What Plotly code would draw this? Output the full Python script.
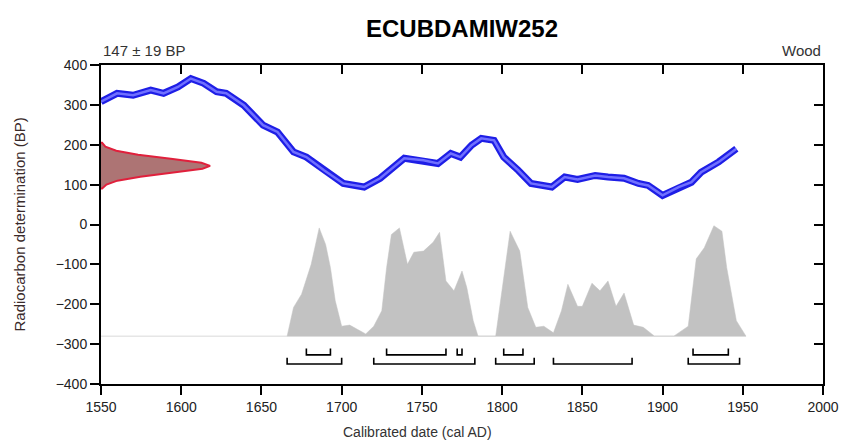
import plotly.graph_objects as go

# ---------------- data ----------------
# Calibration curve (cal AD, BP)
curve_year = [1550, 1560, 1570, 1581, 1589, 1598, 1606, 1614, 1622, 1628, 1639, 1651, 1660,
              1670, 1678, 1689, 1701, 1714, 1724, 1739, 1751, 1760, 1768, 1774, 1781, 1787,
              1795, 1801, 1810, 1818, 1831, 1839, 1847, 1858, 1866, 1876, 1885, 1891, 1900,
              1910, 1918, 1924, 1935, 1946]
curve_bp = [308, 329, 324, 337, 329, 345, 366, 354, 333, 329, 299, 249, 232,
            182, 169, 136, 103, 94, 116, 166, 161, 153, 178, 169, 199, 216,
            211, 169, 136, 103, 94, 119, 113, 123, 119, 116, 103, 98, 73,
            94, 106, 131, 157, 190]

# Radiocarbon determination 147 +/- 19 BP (relative density)
rc_bp = [90, 100, 110, 120, 130, 140, 147, 155, 165, 175, 185, 195, 205]
rc_dens = [0.01, 0.05, 0.15, 0.36, 0.67, 0.93, 1.0, 0.92, 0.64, 0.34, 0.14, 0.04, 0.01]

# Calibrated probability distribution (relative)
cal_year = [1666, 1670, 1675, 1681, 1686, 1690, 1693, 1696, 1700, 1705, 1710, 1715, 1720,
            1725, 1728, 1731, 1736, 1741, 1745, 1751, 1757, 1761, 1765, 1770, 1775, 1778,
            1782, 1785, 1796, 1799, 1805, 1811, 1816, 1821, 1826, 1832, 1837, 1841, 1847,
            1850, 1856, 1861, 1866, 1871, 1876, 1882, 1888, 1895, 1907, 1916, 1921, 1926,
            1932, 1937, 1940, 1946, 1952]
cal_prob = [0.0, 0.26, 0.38, 0.65, 0.98, 0.83, 0.62, 0.32, 0.09, 0.10, 0.06, 0.02, 0.09,
            0.23, 0.62, 0.92, 0.98, 0.65, 0.76, 0.77, 0.85, 0.94, 0.50, 0.41, 0.59, 0.44,
            0.14, 0.0, 0.0, 0.32, 0.95, 0.77, 0.26, 0.08, 0.09, 0.03, 0.23, 0.47, 0.27,
            0.27, 0.48, 0.41, 0.50, 0.27, 0.39, 0.10, 0.08, 0.0, 0.0, 0.09, 0.70, 0.80,
            1.0, 0.95, 0.62, 0.14, 0.01]

# Highest probability ranges
range68_start = [1678, 1728, 1772, 1801, 1919]
range68_end = [1693, 1765, 1775, 1813, 1941]
range95_start = [1666, 1720, 1796, 1832, 1916]
range95_end = [1700, 1783, 1820, 1881, 1948]

title_text = "ECUBDAMIW252"
date_label = "147 ± 19 BP"
material_label = "Wood"
x_title = "Calibrated date (cal AD)"
y_title = "Radiocarbon determination (BP)"
x_ticks = [1550, 1600, 1650, 1700, 1750, 1800, 1850, 1900, 1950, 2000]
y_ticks = [400, 300, 200, 100, 0, -100, -200, -300, -400]

# ---------------- layout constants ----------------
X0, X1 = 1550, 2000
Y0, Y1 = -400, 400
BASE = -280          # baseline of calibrated distribution
CAL_H = 277          # height (BP units) of max probability
RC_W = 68            # width (years) of max density of determination
ROW68, ROW95, TICK = -327, -350, 16
FONT = "Liberation Sans, Arial, sans-serif"

fig = go.Figure()

# baseline of calibrated distribution
fig.add_trace(go.Scatter(x=[X0, 1952], y=[BASE, BASE], mode="lines",
                         line=dict(color="#e6e6e6", width=1.5), hoverinfo="skip", showlegend=False))

# calibrated distribution (grey)
gx = [cal_year[0]] + cal_year + [cal_year[-1]]
gy = [BASE] + [BASE + p * CAL_H for p in cal_prob] + [BASE]
fig.add_trace(go.Scatter(x=gx, y=gy, mode="lines", fill="toself", fillcolor="#c2c2c2",
                         line=dict(color="#c2c2c2", width=0.5), hoverinfo="skip", showlegend=False))

# radiocarbon determination (red)
rx = [X0] + [X0 + d * RC_W for d in rc_dens] + [X0]
ry = [rc_bp[0]] + rc_bp + [rc_bp[-1]]
fig.add_trace(go.Scatter(x=rx, y=ry, mode="lines", fill="toself", fillcolor="#ad7474",
                         line=dict(color="#e0203c", width=2), hoverinfo="skip", showlegend=False))

# calibration curve (blue band)
fig.add_trace(go.Scatter(x=curve_year, y=curve_bp, mode="lines",
                         line=dict(color="#1e1ee6", width=7),
                         hoverinfo="skip", showlegend=False))
fig.add_trace(go.Scatter(x=curve_year, y=curve_bp, mode="lines",
                         line=dict(color="#7070ff", width=2.5),
                         hoverinfo="skip", showlegend=False))

# range brackets
def brackets(starts, ends, yrow):
    xs, ys = [], []
    for s, e in zip(starts, ends):
        xs += [s, s, e, e, None]
        ys += [yrow + TICK, yrow, yrow, yrow + TICK, None]
    return xs, ys

for st, en, row in [(range68_start, range68_end, ROW68), (range95_start, range95_end, ROW95)]:
    bx, by = brackets(st, en, row)
    fig.add_trace(go.Scatter(x=bx, y=by, mode="lines", line=dict(color="black", width=1.6),
                             hoverinfo="skip", showlegend=False))

# invisible trace to activate mirror axes
fig.add_trace(go.Scatter(x=[None], y=[None], xaxis="x2", yaxis="y2", showlegend=False,
                         hoverinfo="skip"))

tickfont = dict(family=FONT, size=14, color="#222")
axis_common = dict(tickwidth=2, ticklen=9, tickcolor="black", showline=True, linecolor="black",
                   linewidth=2, showgrid=False, zeroline=False, automargin=False)
fig.update_layout(
    width=841, height=440,
    margin=dict(l=101, r=18, t=65, b=56),
    paper_bgcolor="white", plot_bgcolor="white",
    hovermode=False,
    xaxis=dict(range=[X0, X1], tickvals=x_ticks, ticks="outside", tickfont=tickfont,
               **axis_common),
    yaxis=dict(range=[Y0, Y1], tickvals=y_ticks, ticks="outside", tickfont=tickfont,
               **axis_common),
    xaxis2=dict(range=[X0, X1], tickvals=x_ticks, overlaying="x", side="top", anchor="y",
                ticks="inside", showticklabels=False, **axis_common),
    yaxis2=dict(range=[Y0, Y1], tickvals=y_ticks, overlaying="y", side="right", anchor="x",
                ticks="inside", showticklabels=False, **axis_common),
    annotations=[
        dict(text="<b>" + title_text + "</b>", xref="paper", yref="paper", x=0.5, y=1,
             yanchor="middle", yshift=37, showarrow=False,
             font=dict(family=FONT, size=24, color="black")),
        dict(text=date_label, xref="paper", yref="paper", x=0, y=1, xanchor="left",
             yanchor="middle", yshift=15, showarrow=False,
             font=dict(family=FONT, size=15, color="#333")),
        dict(text=material_label, xref="paper", yref="paper", x=1, y=1, xanchor="right",
             yanchor="middle", yshift=15, showarrow=False,
             font=dict(family=FONT, size=15, color="#333")),
        dict(text=x_title, xref="paper", yref="paper", x=0.439, y=0, yanchor="middle",
             yshift=-48, showarrow=False, font=dict(family=FONT, size=14, color="#333")),
        dict(text=y_title, xref="paper", yref="paper", x=0, y=0.5, xanchor="center",
             xshift=-82, textangle=-90, showarrow=False,
             font=dict(family=FONT, size=15, color="#3a2a2a")),
    ],
)

fig.write_html("out.html", config={"displayModeBar": False},
               post_script="document.body.style.margin='0';document.body.style.overflow='hidden';")
